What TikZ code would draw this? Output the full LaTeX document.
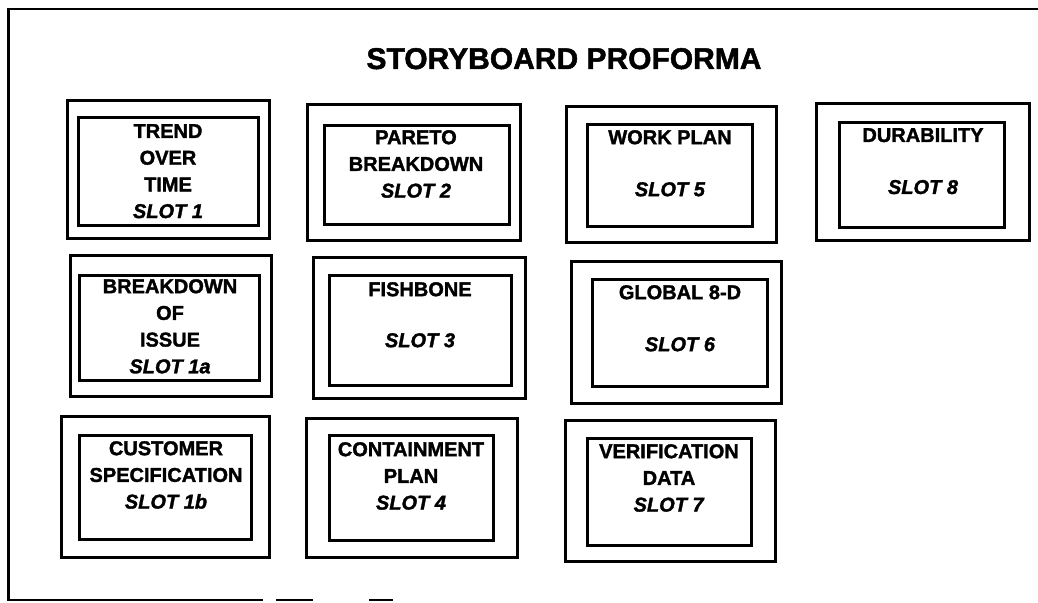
\documentclass[tikz,border=0pt]{standalone}
\usepackage{fontspec}
\setmainfont{Liberation Sans}[BoldFeatures={FakeBold=1.6},BoldItalicFeatures={FakeBold=1.6}]
\begin{document}
\begin{tikzpicture}[x=1pt,y=-1pt,
  boxline/.style={draw=black,line width=3pt},
  frameline/.style={draw=black,line width=2.6pt},
  slottext/.style={anchor=north,inner sep=0pt,align=center,
    font=\fontsize{20}{26.7}\selectfont\bfseries},
  titletext/.style={anchor=base,inner sep=0pt,font=\fontsize{30}{36}\selectfont\bfseries}]
\useasboundingbox (0,0) rectangle (1038,602);
\fill[white] (0,0) rectangle (1038,602);
% frame
\draw[frameline] (1040,9) -- (8.5,9) -- (8.5,600) -- (263,600);
\draw[frameline] (276,600) -- (313,600);
\draw[frameline] (369,600) -- (393,600);
% title
\node[titletext] (title) at (564,69) {STORYBOARD PROFORMA};
% row 1
\draw[boxline] (67,100) rectangle (269,238);
\draw[boxline] (78,117) rectangle (258,225);
\node[slottext] (s1) at (168,124) {TREND\\OVER\\TIME\\\textit{SLOT 1}};
\draw[boxline] (307,104) rectangle (520,240);
\draw[boxline] (324,125) rectangle (509,224);
\node[slottext] (s2) at (416,130) {PARETO\\BREAKDOWN\\\textit{SLOT 2}};
\draw[boxline] (566,106) rectangle (776,242);
\draw[boxline] (587,124) rectangle (752,226);
\node[slottext] (s5) at (670,130) {WORK PLAN\\[25.3pt]\textit{SLOT 5}};
\draw[boxline] (816,103) rectangle (1029,240);
\draw[boxline] (839,122) rectangle (1004,227);
\node[slottext] (s8) at (923,128) {DURABILITY\\[25.3pt]\textit{SLOT 8}};
% row 2
\draw[boxline] (70,255) rectangle (271,396);
\draw[boxline] (79,275) rectangle (259,380);
\node[slottext] (s1a) at (170,279) {BREAKDOWN\\OF\\ISSUE\\\textit{SLOT 1a}};
\draw[boxline] (313,257) rectangle (525,398);
\draw[boxline] (329,275) rectangle (511,385);
\node[slottext] (s3) at (420,282) {FISHBONE\\[24.3pt]\textit{SLOT 3}};
\draw[boxline] (571,261) rectangle (781,403);
\draw[boxline] (592,279) rectangle (767,386);
\node[slottext] (s6) at (680,285) {GLOBAL 8-D\\[25.3pt]\textit{SLOT 6}};
% row 3
\draw[boxline] (61,416) rectangle (269,557);
\draw[boxline] (79,435) rectangle (251,539);
\node[slottext] (s1b) at (166,441) {CUSTOMER\\SPECIFICATION\\\textit{SLOT 1b}};
\draw[boxline] (306,418) rectangle (517,557);
\draw[boxline] (329,435) rectangle (493,540);
\node[slottext] (s4) at (411,442) {CONTAINMENT\\PLAN\\\textit{SLOT 4}};
\draw[boxline] (565,420) rectangle (775,561);
\draw[boxline] (587,438) rectangle (751,545);
\node[slottext] (s7) at (669,444) {VERIFICATION\\DATA\\\textit{SLOT 7}};
\end{tikzpicture}
\end{document}
